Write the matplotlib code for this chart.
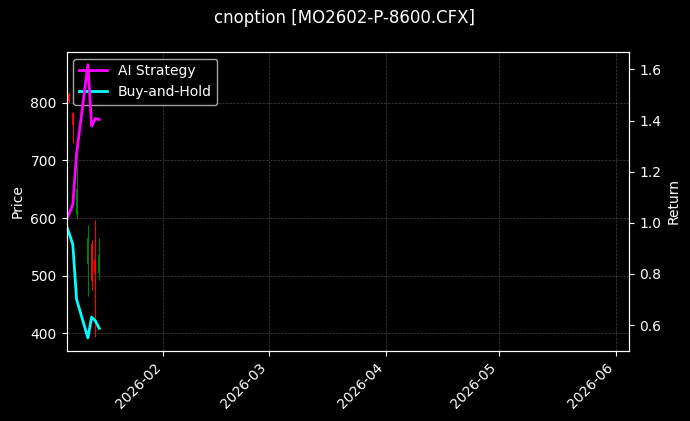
import numpy as np
import pandas as pd
import matplotlib
matplotlib.use('Agg')
import matplotlib.pyplot as plt
import matplotlib.dates as mdates

# 日期與價格資料
dates = pd.to_datetime(['2026-01-06', '2026-01-07', '2026-01-08', '2026-01-09',
                        '2026-01-12', '2026-01-13', '2026-01-14', '2026-01-15'])
open_p = [850, 815, 782, 605, 520, 555, 528, 505]
close_p = [820, 803, 761, 650, 565, 490, 505, 535]
high_p = [865, 818, 784, 689, 588, 562, 596, 565]
low_p = [815, 800, 730, 600, 464, 475, 394, 492]

# 報酬曲線
ai_return = [1.0, 1.035, 1.072, 1.27, 1.618, 1.378, 1.408, 1.404]
bh_return = [1.0, 0.96, 0.915, 0.70, 0.55, 0.631, 0.616, 0.587]

title = 'cnoption [MO2602-P-8600.CFX]'

plt.style.use('dark_background')
fig, ax = plt.subplots(figsize=(6.9, 4.21), dpi=100)
fig.subplots_adjust(left=0.0964, right=0.912, top=0.877, bottom=0.167)

# K 線
colors = ['green' if c >= o else 'red' for o, c in zip(open_p, close_p)]
ax.vlines(dates, low_p, high_p, colors=colors, linewidth=0.8)
body_bottom = np.minimum(open_p, close_p)
body_height = np.abs(np.array(close_p) - np.array(open_p))
ax.bar(dates, body_height, bottom=body_bottom, width=0.5, color=colors)
ax.set_ylabel('Price')
ax.set_ylim(369.8, 888.5)
ax.grid(True, linestyle='--', linewidth=0.5, color='gray', alpha=0.5)

# 報酬（右軸）
ax2 = ax.twinx()
l1, = ax2.plot(dates, ai_return, color='magenta', linewidth=2, label='AI Strategy')
l2, = ax2.plot(dates, bh_return, color='cyan', linewidth=2, label='Buy-and-Hold')
ax2.set_ylabel('Return')
ax2.set_ylim(0.4995, 1.669)

ax.set_xlim(pd.Timestamp('2026-01-06 08:00'), pd.Timestamp('2026-06-04 14:00'))
ax.xaxis.set_major_locator(mdates.MonthLocator())
ax.xaxis.set_major_formatter(mdates.DateFormatter('%Y-%m'))
plt.setp(ax.get_xticklabels(), rotation=45, ha='right')

ax.legend(handles=[l1, l2], loc='upper left')
fig.suptitle(title, fontsize=12, y=0.978)

fig.savefig('out.png', dpi=100)
